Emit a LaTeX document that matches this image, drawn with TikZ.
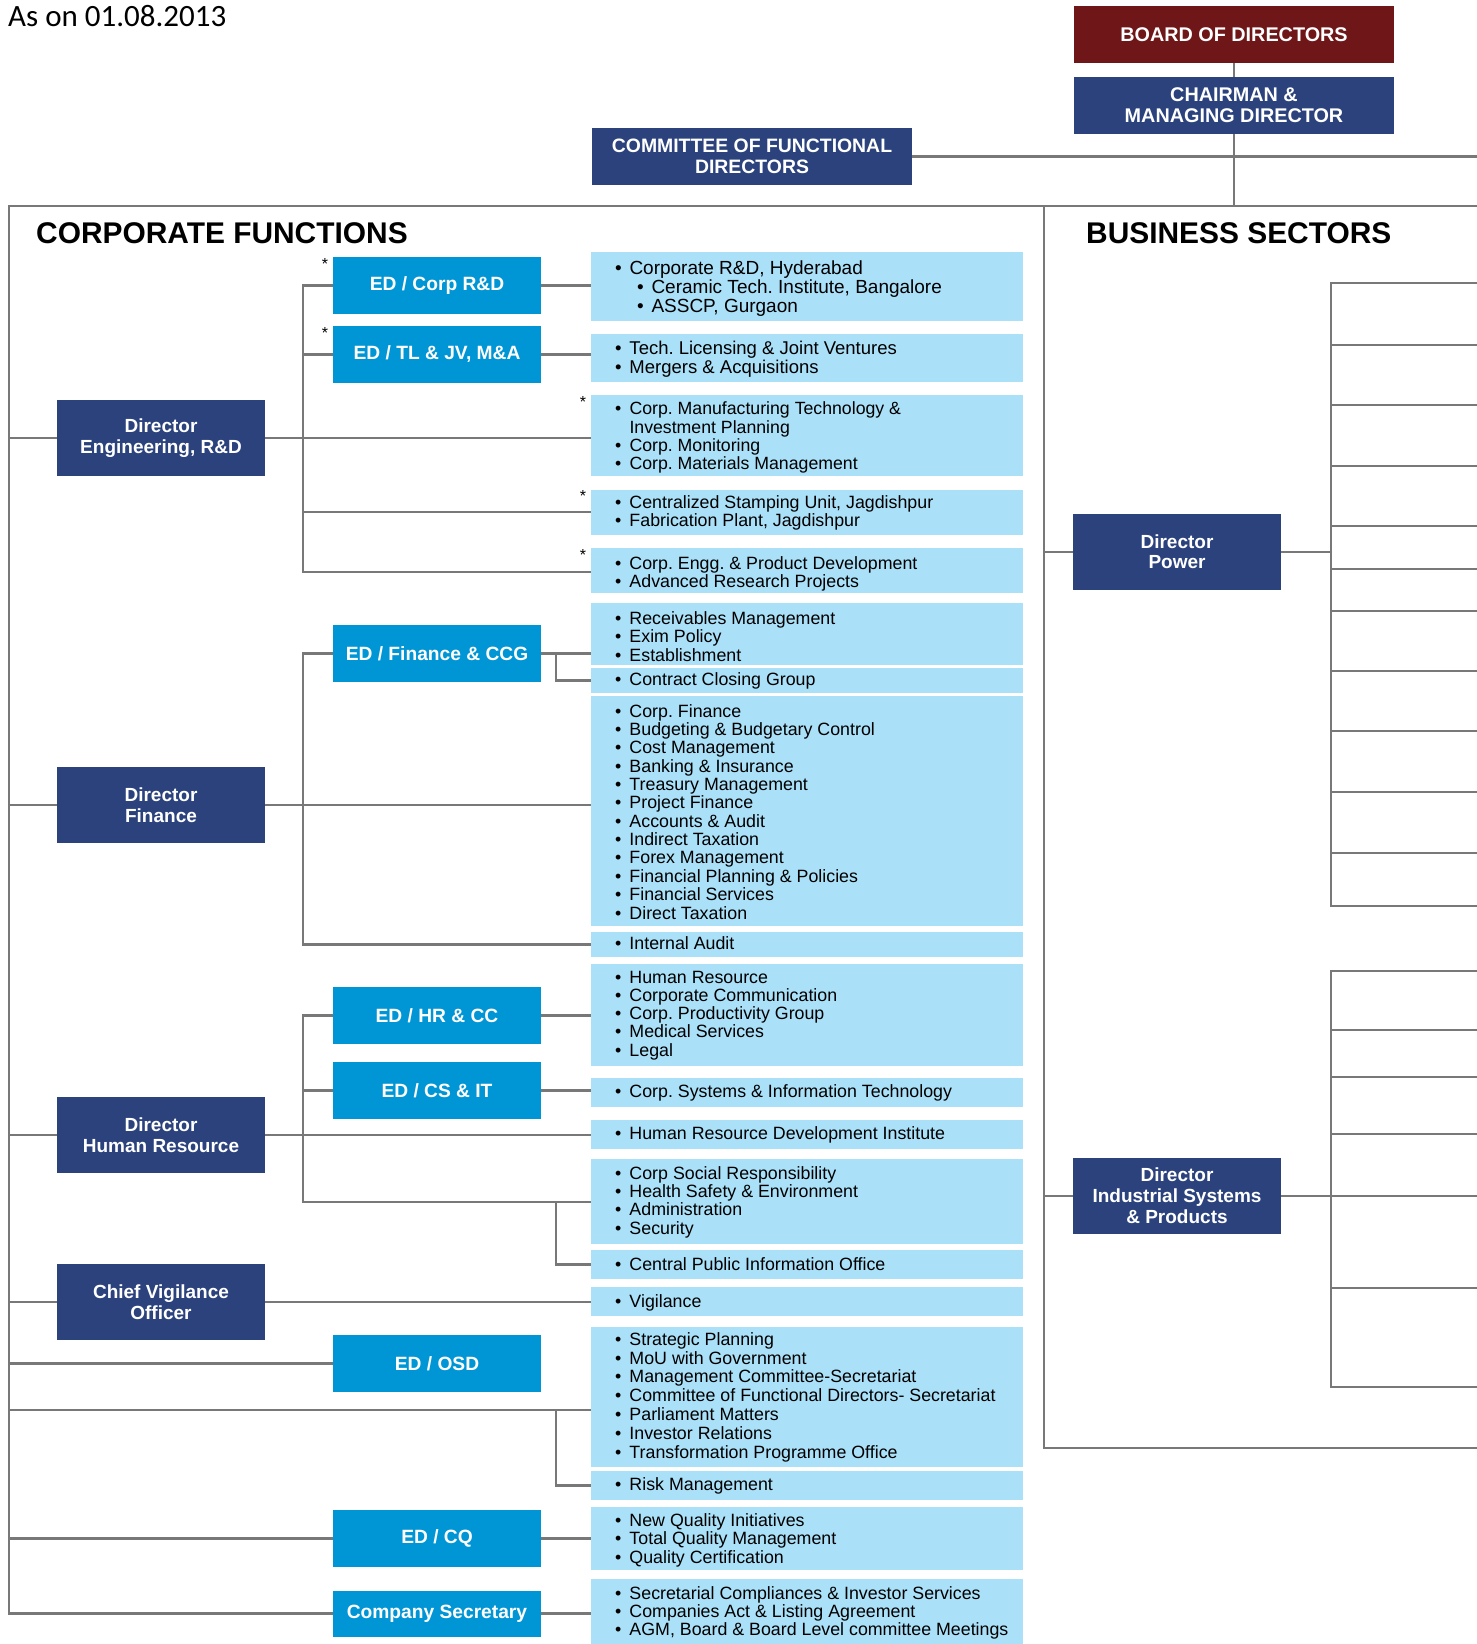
\documentclass[tikz,border=0pt]{standalone}
\usepackage{fontspec}
\setmainfont{Liberation Sans}
\newfontfamily\calibfont{Carlito}
\definecolor{dblue}{RGB}{43,66,125}
\definecolor{edblue}{RGB}{0,150,214}
\definecolor{lblue}{RGB}{170,224,248}
\definecolor{bred}{RGB}{110,22,24}
\definecolor{lgrey}{RGB}{120,120,120}
\pgfdeclarelayer{bg}
\pgfsetlayers{bg,main}
\frenchspacing
\newcommand{\bul}{\makebox[14.5pt][l]{\textbullet}}
\newcommand{\ilist}[2][2pt]{\makebox[384pt][l]{\raisebox{-#1}[\height][\depth]{\begin{tabular}{@{}l@{}}#2\end{tabular}}}}
\begin{document}
\begin{tikzpicture}[x=1pt,y=-1pt,
  conn/.style={draw=lgrey, line width=2.5pt, line cap=rect},
  topbox/.style={fill=#1, text=white, font=\fontsize{19.8}{21}\selectfont\bfseries, align=center, minimum width=320pt, minimum height=57pt, inner sep=0pt},
  dirbox/.style={fill=dblue, text=white, font=\fontsize{19}{21}\selectfont\bfseries, align=center, minimum width=208pt, minimum height=76pt, inner sep=0pt},
  edbox/.style={fill=edblue, text=white, font=\fontsize{19.2}{21}\selectfont\bfseries, minimum width=208pt, minimum height=57pt, inner sep=0pt},
  ibox/.style={fill=lblue, inner xsep=24pt, inner ysep=0pt, minimum width=432pt, minimum height=#1, font=\fontsize{17.8}{18.2}\selectfont},
  title/.style={font=\fontsize{29.9}{30}\selectfont\bfseries, inner sep=0pt, anchor=west},
  starmark/.style={font=\fontsize{16}{16}\selectfont, inner sep=0pt}
]
\useasboundingbox (0,0) rectangle (1477,1644);

% header
\node[font=\calibfont\fontsize{31}{32}\selectfont, anchor=base west, inner sep=0pt] (asof) at (8,26) {As on 01.08.2013};
\node[topbox=bred] (bod) at (1234,34.5) {BOARD OF DIRECTORS};
\node[topbox=dblue] (cmd) at (1234,105.5) {CHAIRMAN \&\\MANAGING DIRECTOR};
\node[topbox=dblue, font=\fontsize{19.4}{21}\selectfont\bfseries] (cfd) at (752,156.5) {COMMITTEE OF FUNCTIONAL\\DIRECTORS};

\node[title] (tcf) at (36,233) {CORPORATE FUNCTIONS};
\node[title] (tbs) at (1086,233) {BUSINESS SECTORS};

% directors (corporate)
\node[dirbox] (deng) at (161,438) {Director\\Engineering, R\&D};
\node[dirbox] (dfin) at (161,805) {Director\\Finance};
\node[dirbox] (dhr) at (161,1135) {Director\\Human Resource};
\node[dirbox] (cvo) at (161,1302) {Chief Vigilance\\Officer};

% ED boxes
\node[edbox] (edrd) at (437,285.5) {ED / Corp R\&D};
\node[edbox] (edtl) at (437,354.5) {ED / TL \& JV, M\&A};
\node[edbox] (edfin) at (437,653.5) {ED / Finance \& CCG};
\node[edbox] (edhr) at (437,1015.5) {ED / HR \& CC};
\node[edbox] (edcsit) at (437,1090.5) {ED / CS \& IT};
\node[edbox] (edosd) at (437,1363.5) {ED / OSD};
\node[edbox] (edcq) at (437,1538.5) {ED / CQ};
\node[edbox, minimum height=46pt] (cs) at (437,1613.5) {Company Secretary};

% stars
\node[starmark] (s1) at (325,264) {*};
\node[starmark] (s2) at (325,333) {*};
\node[starmark] (s3) at (583,402) {*};
\node[starmark] (s4) at (583,496) {*};
\node[starmark] (s5) at (583,555) {*};

% info boxes
\node[ibox=69pt, font=\fontsize{19}{18}\selectfont] (b1) at (807,286.5) {\ilist[3pt]{\bul Corporate R\&D, Hyderabad\\\hspace*{22pt}\bul Ceramic Tech. Institute, Bangalore\\\hspace*{22pt}\bul ASSCP, Gurgaon}};
\node[ibox=48pt, font=\fontsize{18.5}{18.3}\selectfont] (b2) at (807,358) {\ilist{\bul Tech. Licensing \& Joint Ventures\\\bul Mergers \& Acquisitions}};
\node[ibox=81pt, font=\fontsize{17.7}{18}\selectfont] (b3) at (807,435.5) {\ilist[3pt]{\bul Corp. Manufacturing Technology \&\\\hspace*{14.5pt}Investment Planning\\\bul Corp. Monitoring\\\bul Corp. Materials Management}};
\node[ibox=45pt] (b4) at (807,512.5) {\ilist[1.5pt]{\bul Centralized Stamping Unit, Jagdishpur\\\bul Fabrication Plant, Jagdishpur}};
\node[ibox=45pt] (b5) at (807,570.5) {\ilist[4pt]{\bul Corp. Engg. \& Product Development\\\bul Advanced Research Projects}};
\node[ibox=62pt, font=\fontsize{17.8}{17.8}\selectfont] (b6) at (807,634) {\ilist[5pt]{\bul Receivables Management\\\bul Exim Policy\\\bul Establishment}};
\node[ibox=25pt] (b7) at (807,680.5) {\ilist[1.5pt]{\bul Contract Closing Group}};
\node[ibox=230pt, font=\fontsize{17.8}{18.25}\selectfont] (b8) at (807,811) {\ilist[3.5pt]{\bul Corp. Finance\\\bul Budgeting \& Budgetary Control\\\bul Cost Management\\\bul Banking \& Insurance\\\bul Treasury Management\\\bul Project Finance\\\bul Accounts \& Audit\\\bul Indirect Taxation\\\bul Forex Management\\\bul Financial Planning \& Policies\\\bul Financial Services\\\bul Direct Taxation}};
\node[ibox=25pt] (b9) at (807,944.5) {\ilist[1.5pt]{\bul Internal Audit}};
\node[ibox=102pt, font=\fontsize{17.8}{18}\selectfont] (b10) at (807,1015) {\ilist[1pt]{\bul Human Resource\\\bul Corporate Communication\\\bul Corp. Productivity Group\\\bul Medical Services\\\bul Legal}};
\node[ibox=29pt] (b11) at (807,1092.5) {\ilist[1.5pt]{\bul Corp. Systems \& Information Technology}};
\node[ibox=29pt] (b12) at (807,1134.5) {\ilist[1.5pt]{\bul Human Resource Development Institute}};
\node[ibox=85pt, font=\fontsize{17.8}{18.1}\selectfont] (b13) at (807,1201.5) {\ilist[1.5pt]{\bul Corp Social Responsibility\\\bul Health Safety \& Environment\\\bul Administration\\\bul Security}};
\node[ibox=29pt] (b14) at (807,1264.5) {\ilist[2pt]{\bul Central Public Information Office}};
\node[ibox=29pt] (b15) at (807,1301.5) {\ilist[2pt]{\bul Vigilance}};
\node[ibox=140pt, font=\fontsize{17.8}{18.8}\selectfont] (b16) at (807,1397) {\ilist[1pt]{\bul Strategic Planning\\\bul MoU with Government\\\bul Management Committee-Secretariat\\\bul Committee of Functional Directors- Secretariat\\\bul Parliament Matters\\\bul Investor Relations\\\bul Transformation Programme Office}};
\node[ibox=29pt] (b17) at (807,1485.5) {\ilist[1.5pt]{\bul Risk Management}};
\node[ibox=63pt] (b18) at (807,1538.5) {\ilist[2.5pt]{\bul New Quality Initiatives\\\bul Total Quality Management\\\bul Quality Certification}};
\node[ibox=65pt, font=\fontsize{17.8}{17.8}\selectfont] (b19) at (807,1611.5) {\ilist[2pt]{\bul Secretarial Compliances \& Investor Services\\\bul Companies Act \& Listing Agreement\\\bul AGM, Board \& Board Level committee Meetings}};

% business sector directors
\node[dirbox, font=\fontsize{19}{20}\selectfont\bfseries] (dpow) at (1177,552) {Director\\Power};
\node[dirbox] (disp) at (1177,1196) {Director\\Industrial Systems\\\& Products};

% frame coordinates
\coordinate (tl) at (9,206);
\coordinate (tr) at (1477,206);
\coordinate (dv) at (1044,206);
\coordinate (dvb) at (1044,1448);
\coordinate (br) at (1477,1448);
\coordinate (lb) at (9,1613.5);
\coordinate (cfr) at (1477,156.5);

% left border taps
\coordinate (l1) at (9,438);
\coordinate (l2) at (9,805);
\coordinate (l3) at (9,1135);
\coordinate (l4) at (9,1302);
\coordinate (l5) at (9,1363.5);
\coordinate (l6) at (9,1410);
\coordinate (l7) at (9,1538.5);

% buses
\coordinate (eA) at (303,285.5);
\coordinate (eB) at (303,354.5);
\coordinate (eD) at (303,512);
\coordinate (eE) at (303,572);
\coordinate (fA) at (303,653.5);
\coordinate (fD) at (303,944.5);
\coordinate (fb1) at (556,653.5);
\coordinate (fb2) at (556,680.5);
\coordinate (hA) at (303,1015.5);
\coordinate (hB) at (303,1090.5);
\coordinate (hD) at (303,1202);
\coordinate (hb1) at (556,1202);
\coordinate (hb2) at (556,1264.5);
\coordinate (ob1) at (556,1410);
\coordinate (ob2) at (556,1485.5);

% business buses
\coordinate (pw) at (1331,552);
\coordinate (pT) at (1331,283);
\coordinate (pB) at (1331,906);
\coordinate (iw) at (1331,1196);
\coordinate (iT) at (1331,971);
\coordinate (iB) at (1331,1387);

\begin{pgfonlayer}{bg}
% header connectors
\draw[conn] (bod) -- (cmd);
\draw[conn] (cmd.south) -- (cmd.south |- tl);
\draw[conn] (cfd.east) -- (cfr);
\draw[conn] (lb) -- (tl) -- (tr);
\draw[conn] (dv) -- (dvb) -- (br);

% engineering
\draw[conn] (edrd.west) -- (eA) -- (eE) -- (b5.west |- eE);
\draw[conn] (edrd.east) -- (b1.west |- edrd.east);
\draw[conn] (eB) -- (edtl.west);
\draw[conn] (edtl.east) -- (b2.west |- edtl.east);
\draw[conn] (l1) -- (deng.west);
\draw[conn] (deng.east) -- (b3.west |- deng.east);
\draw[conn] (eD) -- (b4.west |- eD);

% finance
\draw[conn] (edfin.west) -- (fA) -- (fD) -- (b9.west |- fD);
\draw[conn] (edfin.east) -- (b6.west |- edfin.east);
\draw[conn] (fb1) -- (fb2) -- (b7.west);
\draw[conn] (l2) -- (dfin.west);
\draw[conn] (dfin.east) -- (b8.west |- dfin.east);

% HR
\draw[conn] (edhr.west) -- (hA) -- (hD) -- (b13.west |- hD);
\draw[conn] (edhr.east) -- (b10.west |- edhr.east);
\draw[conn] (hB) -- (edcsit.west);
\draw[conn] (edcsit.east) -- (b11.west |- edcsit.east);
\draw[conn] (l3) -- (dhr.west);
\draw[conn] (dhr.east) -- (b12.west |- dhr.east);
\draw[conn] (hb1) -- (hb2) -- (b14.west);

% vigilance, OSD, CQ, CS
\draw[conn] (l4) -- (cvo.west);
\draw[conn] (cvo.east) -- (b15.west |- cvo.east);
\draw[conn] (l5) -- (edosd.west);
\draw[conn] (l6) -- (b16.west |- l6);
\draw[conn] (ob1) -- (ob2) -- (b17.west);
\draw[conn] (l7) -- (edcq.west);
\draw[conn] (edcq.east) -- (b18.west);
\draw[conn] (lb) -- (cs.west);
\draw[conn] (cs.east) -- (b19.west |- cs.east);

% business: power
\draw[conn] (dv |- dpow.west) -- (dpow.west);
\draw[conn] (dpow.east) -- (pw);
\draw[conn] (1477,283) -- (pT) -- (pB) -- (1477,906);
\foreach \yy in {345,405,466,526,569,611,671,731,792,853}
  \draw[conn] (1331,\yy) -- (1477,\yy);

% business: industrial systems
\draw[conn] (dv |- disp.west) -- (disp.west);
\draw[conn] (disp.east) -- (iw);
\draw[conn] (1477,971) -- (iT) -- (iB) -- (1477,1387);
\foreach \yy in {1030,1077,1134,1196,1288}
  \draw[conn] (1331,\yy) -- (1477,\yy);
\end{pgfonlayer}
\end{tikzpicture}
\end{document}
